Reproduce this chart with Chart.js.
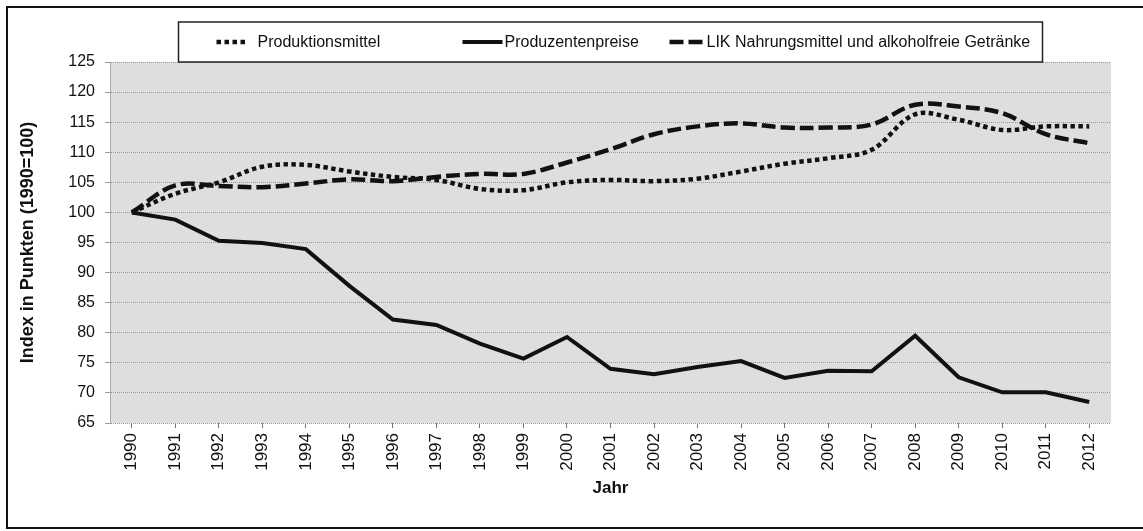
<!DOCTYPE html>
<html>
<head>
<meta charset="utf-8">
<script src="https://cdn.jsdelivr.net/npm/chart.js@4.4.1/dist/chart.umd.min.js"></script>
<style>
  html, body { margin: 0; padding: 0; background: #fff; }
</style>
</head>
<body>
<canvas id="chart" width="1143" height="531"></canvas>
<script>
// values (index, 1990 = 100)
const years = ['1990', '1991', '1992', '1993', '1994', '1995', '1996', '1997', '1998', '1999', '2000',
               '2001', '2002', '2003', '2004', '2005', '2006', '2007', '2008', '2009', '2010', '2011', '2012'];

const produktionsmittel = [100, 103.1, 105.0, 107.6, 107.9, 106.8, 105.9, 105.4, 103.9, 103.7, 105.0,
                           105.4, 105.2, 105.6, 106.8, 108.1, 109.0, 110.4, 116.3, 115.4, 113.7, 114.3, 114.3];

const produzentenpreise = [100, 98.8, 95.3, 94.9, 93.9, 87.8, 82.2, 81.3, 78.2, 75.7, 79.3,
                           74.0, 73.1, 74.3, 75.3, 72.5, 73.7, 73.6, 79.5, 72.6, 70.1, 70.1, 68.5];

const likNahrung = [100, 104.5, 104.4, 104.2, 104.8, 105.5, 105.2, 105.9, 106.4, 106.4, 108.3,
                    110.5, 113.0, 114.3, 114.8, 114.1, 114.1, 114.6, 117.9, 117.6, 116.5, 113.0, 111.5];

const seriesNames = ['Produktionsmittel', 'Produzentenpreise', 'LIK Nahrungsmittel und alkoholfreie Getränke'];

const yMin = 65, yMax = 125, yStep = 5;

const FONT = '"Liberation Sans", Arial, sans-serif';

// white page, grey plot area, frame round the whole picture
const paper = {
    id: 'paper',
    beforeDraw(chart) {
        const { ctx, chartArea: a, width, height } = chart;
        ctx.save();
        ctx.fillStyle = '#fff';
        ctx.fillRect(0, 0, width, height);
        ctx.fillStyle = '#dedede';
        ctx.fillRect(a.left, a.top, a.right - a.left, a.bottom - a.top);
        ctx.strokeStyle = '#111';
        ctx.lineWidth = 2;
        ctx.beginPath();
        ctx.moveTo(width + 5, 7);
        ctx.lineTo(7, 7);
        ctx.lineTo(7, 528);
        ctx.lineTo(width + 5, 528);
        ctx.stroke();
        ctx.restore();
    }
};

// boxed legend above the plot, like the Excel original
const legendSlots = [
    { sample: 38, len: 30, text: 79 },
    { sample: 284, len: 40, text: 326 },
    { sample: 491, len: 36, text: 528 }
];

const legendBox = {
    id: 'legendBox',
    afterDraw(chart) {
        const { ctx, chartArea: a } = chart;
        const mid = (a.left + a.right) / 2;
        const left = mid - 432, top = 22, w = 864, h = 40;
        const y = top + h / 2;
        ctx.save();
        ctx.fillStyle = '#fff';
        ctx.fillRect(left, top, w, h);
        ctx.strokeStyle = '#222';
        ctx.lineWidth = 1.5;
        ctx.strokeRect(left, top, w, h);
        ctx.font = '16px ' + FONT;
        ctx.textBaseline = 'middle';
        chart.data.datasets.forEach((ds, i) => {
            const s = legendSlots[i];
            ctx.strokeStyle = ds.borderColor;
            ctx.lineWidth = ds.borderWidth;
            ctx.setLineDash(ds.borderDash || []);
            ctx.beginPath();
            ctx.moveTo(left + s.sample, y);
            ctx.lineTo(left + s.sample + s.len, y);
            ctx.stroke();
            ctx.fillStyle = '#111';
            ctx.fillText(ds.label, left + s.text, y + 1);
        });
        ctx.restore();
    }
};

new Chart('chart', {
    type: 'line',
    data: {
        labels: years,
        datasets: [{
            label: seriesNames[0],
            data: produktionsmittel,
            borderColor: '#111',
            borderWidth: 4.5,
            borderDash: [4.5, 3.5],
            borderCapStyle: 'butt',
            tension: 0.35,
            pointRadius: 0
        }, {
            label: seriesNames[1],
            data: produzentenpreise,
            borderColor: '#111',
            borderWidth: 4,
            tension: 0,
            pointRadius: 0
        }, {
            label: seriesNames[2],
            data: likNahrung,
            borderColor: '#111',
            borderWidth: 4.5,
            borderDash: [14, 5],
            borderCapStyle: 'butt',
            tension: 0.35,
            pointRadius: 0
        }]
    },
    options: {
        responsive: false,
        animation: false,
        layout: { padding: { left: 10, right: 32, top: 62, bottom: 30 } },
        plugins: {
            legend: { display: false },
            tooltip: { enabled: false }
        },
        scales: {
            x: {
                offset: true,
                grid: { drawOnChartArea: false, drawTicks: true, tickLength: 5, color: '#777' },
                border: { display: false },
                ticks: {
                    minRotation: 90, maxRotation: 90, padding: 5, autoSkip: false,
                    color: '#111', font: { family: FONT, size: 17 }
                },
                title: {
                    display: true, text: 'Jahr', color: '#111',
                    font: { family: FONT, size: 17, weight: 'bold' },
                    padding: { top: 0, bottom: 2 }
                },
                afterFit(scale) { scale.height = 78; }
            },
            y: {
                min: yMin, max: yMax,
                grid: { color: '#999', lineWidth: 1, tickLength: 5 },
                border: { display: true, color: '#aaa', width: 1, dash: [1, 1] },
                ticks: {
                    stepSize: yStep, padding: 10, color: '#111',
                    font: { family: FONT, size: 16 }
                },
                title: {
                    display: true, text: 'Index in Punkten (1990=100)', color: '#111',
                    font: { family: FONT, size: 18, weight: 'bold' },
                    padding: { top: 7, bottom: 0 }
                },
                afterFit(scale) { scale.width = 100; }
            }
        }
    },
    plugins: [paper, legendBox]
});
</script>
</body>
</html>
